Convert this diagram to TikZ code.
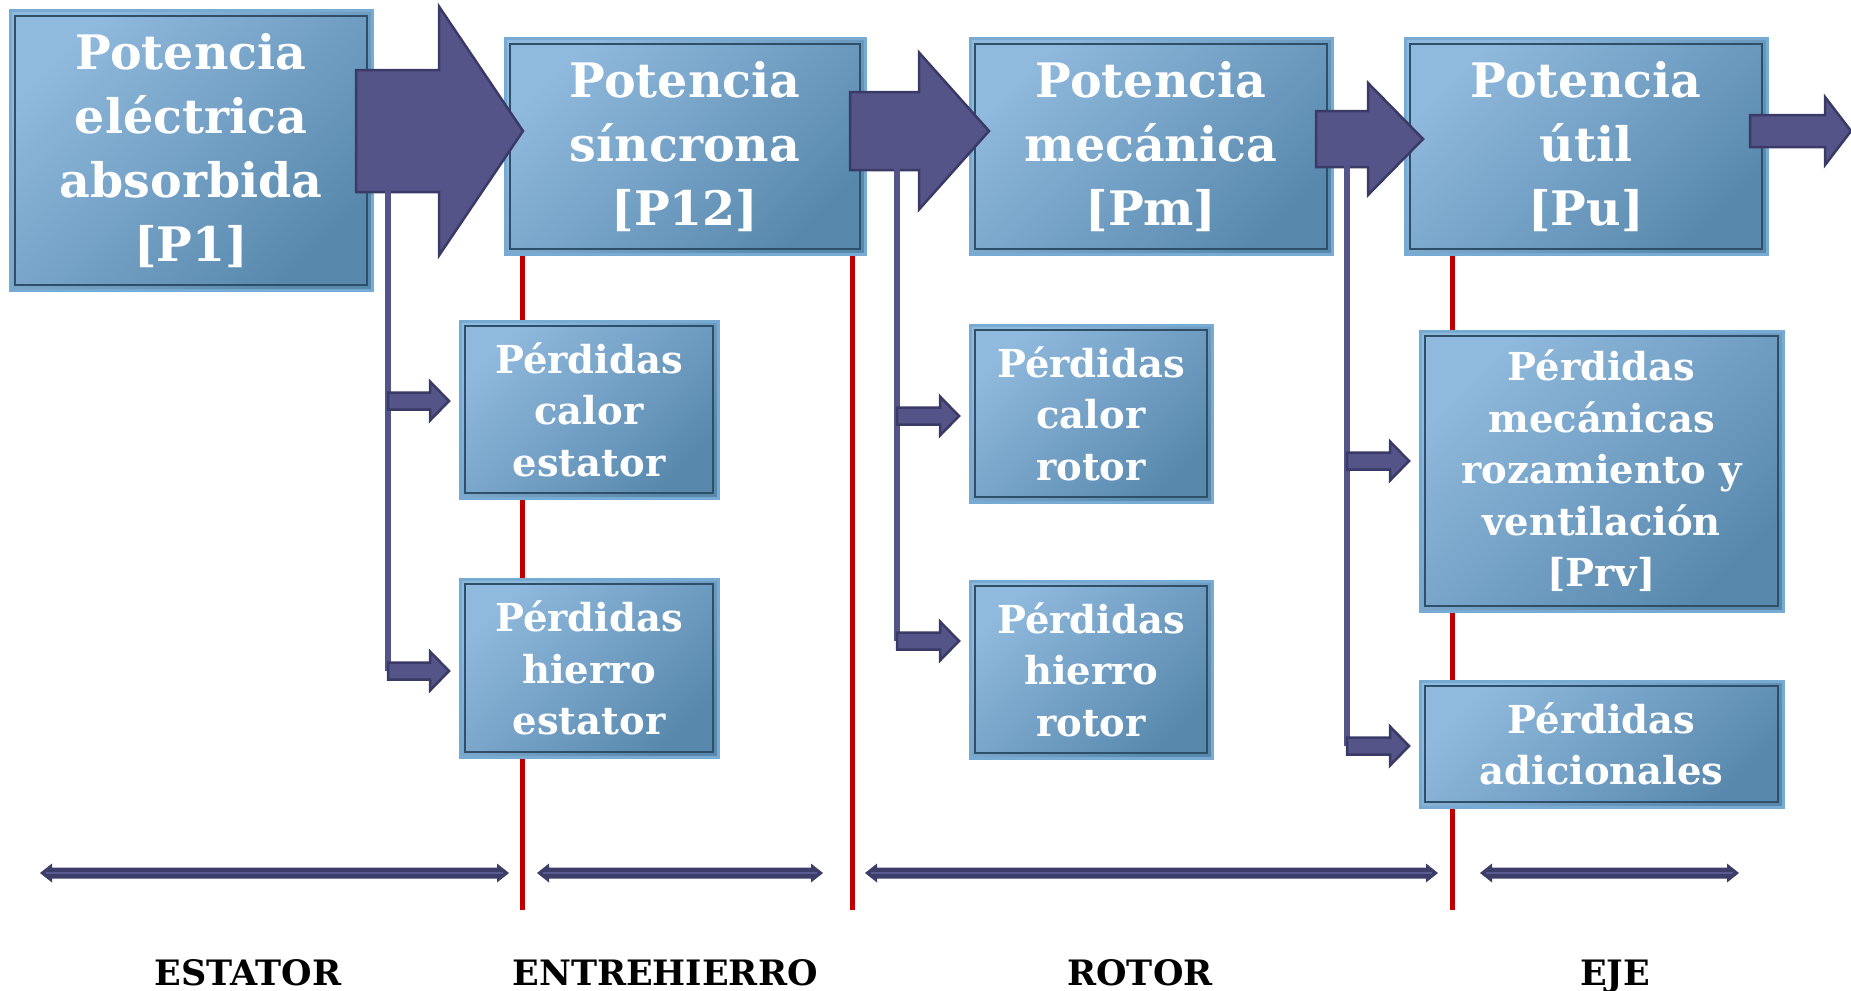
\documentclass[tikz,border=0pt]{standalone}
\usepackage{fontspec}
\setmainfont{DejaVu Serif}
\usetikzlibrary{calc}
\definecolor{boxlight}{HTML}{8FB9DD}
\definecolor{boxdark}{HTML}{5889AD}
\definecolor{boxrim}{HTML}{78ABD4}
\definecolor{boxline}{HTML}{2F4E68}
\definecolor{arrfill}{HTML}{545489}
\definecolor{arrline}{HTML}{3A3A66}
\definecolor{redline}{HTML}{C00000}
\definecolor{navy}{HTML}{3D3D69}
\definecolor{navylight}{HTML}{5A5A92}
\newcommand\blkarrow[6]{%
  \draw[blockarrow] (#1,#3-#4) -- (#2-#6,#3-#4) -- (#2-#6,#3-#5) -- (#2,#3)
    -- (#2-#6,#3+#5) -- (#2-#6,#3+#4) -- (#1,#3+#4) -- cycle;}
\newcommand\dblarrow[3]{%
  \fill[navy] (#1,#3) -- (#1+12,#3-9.5) -- (#1+12,#3-5.5) -- (#2-12,#3-5.5) -- (#2-12,#3-9.5)
    -- (#2,#3) -- (#2-12,#3+9.5) -- (#2-12,#3+5.5) -- (#1+12,#3+5.5) -- (#1+12,#3+9.5) -- cycle;
  \draw[navylight, line width=2.5pt] (#1+6,#3) -- (#2-6,#3);}
\tikzset{
  boxbase/.style={rectangle, inner sep=0pt, top color=boxlight, bottom color=boxdark,
    shading angle=45, draw=boxrim, line width=3pt, text=white, align=center,
    path picture={\draw[boxline, line width=2.2pt]
      ([shift={(5pt,-5pt)}]path picture bounding box.north west) rectangle
      ([shift={(-5pt,5pt)}]path picture bounding box.south east);}},
  bigbox/.style={boxbase, font=\bfseries\fontsize{47.5}{64}\selectfont},
  lossbox/.style={boxbase, font=\bfseries\fontsize{38.5}{51.5}\selectfont},
  blockarrow/.style={fill=arrfill, draw=arrline, line width=2.5pt, line join=miter},
  branch/.style={draw=arrfill, line width=6pt},
  sep/.style={draw=redline, line width=5pt},
  zone/.style={font=\bfseries\fontsize{35}{40}\selectfont, anchor=base, inner sep=0pt, text depth=0pt}
}
\begin{document}
\begin{tikzpicture}[x=1pt, y=-1pt]
\useasboundingbox (0,0) rectangle (1851,990);
% separators (red lines)
\coordinate (s1t) at (522,254); \coordinate (s1b) at (522,910);
\coordinate (s2t) at (852,254); \coordinate (s2b) at (852,910);
\coordinate (s3t) at (1452,254); \coordinate (s3b) at (1452,910);
\draw[sep] (s1t) -- (s1b);
\draw[sep] (s2t) -- (s2b);
\draw[sep] (s3t) -- (s3b);
% main boxes
\node[bigbox, minimum width=362pt, minimum height=279pt] (p1) at (191,150.5)
  {Potencia\\eléctrica\\absorbida\\{[}P1{]}};
\node[bigbox, minimum width=360pt, minimum height=215pt] (p12) at (685,146.5)
  {Potencia\\síncrona\\{[}P12{]}};
\node[bigbox, minimum width=362pt, minimum height=215pt] (pm) at (1151,146.5)
  {Potencia\\mecánica\\{[}Pm{]}};
\node[bigbox, minimum width=362pt, minimum height=215pt] (pu) at (1586,146.5)
  {Potencia\\útil\\{[}Pu{]}};
% loss boxes
\node[lossbox, minimum width=258pt, minimum height=177pt] (pce) at (589,409.5)
  {Pérdidas\\calor\\estator};
\node[lossbox, minimum width=258pt, minimum height=178pt] (phe) at (589,668)
  {Pérdidas\\hierro\\estator};
\node[lossbox, minimum width=242pt, minimum height=177pt] (pcr) at (1091,413.5)
  {Pérdidas\\calor\\rotor};
\node[lossbox, minimum width=242pt, minimum height=177pt] (phr) at (1091,669.5)
  {Pérdidas\\hierro\\rotor};
\node[lossbox, minimum width=363pt, minimum height=280pt] (pmv) at (1601.5,471)
  {Pérdidas\\mecánicas\\rozamiento y\\ventilación\\{[}Prv{]}};
\node[lossbox, minimum width=363pt, minimum height=126pt] (pad) at (1601.5,744)
  {Pérdidas\\adicionales};
% main flow arrows
\blkarrow{356}{523}{131}{61}{124.5}{84}
\blkarrow{850}{989}{131}{39}{78.5}{70}
\blkarrow{1316}{1423}{139}{28}{56}{55}
\blkarrow{1750}{1851}{131}{16}{34}{26}
% branch lines
\coordinate (b1) at (388,182); \coordinate (b2) at (897,160); \coordinate (b3) at (1347,157);
\draw[branch] (b1) -- (388,671);
\draw[branch] (b2) -- (897,641);
\draw[branch] (b3) -- (1347,746);
% small loss arrows
\blkarrow{388}{449}{401}{8.5}{19.5}{19}
\blkarrow{388}{449}{671}{8.5}{19.5}{19}
\blkarrow{897}{959}{416}{8.5}{19.5}{19}
\blkarrow{897}{959}{641}{8.5}{19.5}{19}
\blkarrow{1347}{1409}{461}{8.5}{19.5}{19}
\blkarrow{1347}{1409}{746}{8.5}{19.5}{19}
% zone extents
\dblarrow{40}{509}{873}
\dblarrow{537}{823}{873}
\dblarrow{865}{1438}{873}
\dblarrow{1480}{1739}{873}
% zone labels
\node[zone] (zest) at (248,985) {ESTATOR};
\node[zone] (zent) at (665,985) {ENTREHIERRO};
\node[zone] (zrot) at (1140,985) {ROTOR};
\node[zone] (zeje) at (1615,985) {EJE};
\end{tikzpicture}
\end{document}
